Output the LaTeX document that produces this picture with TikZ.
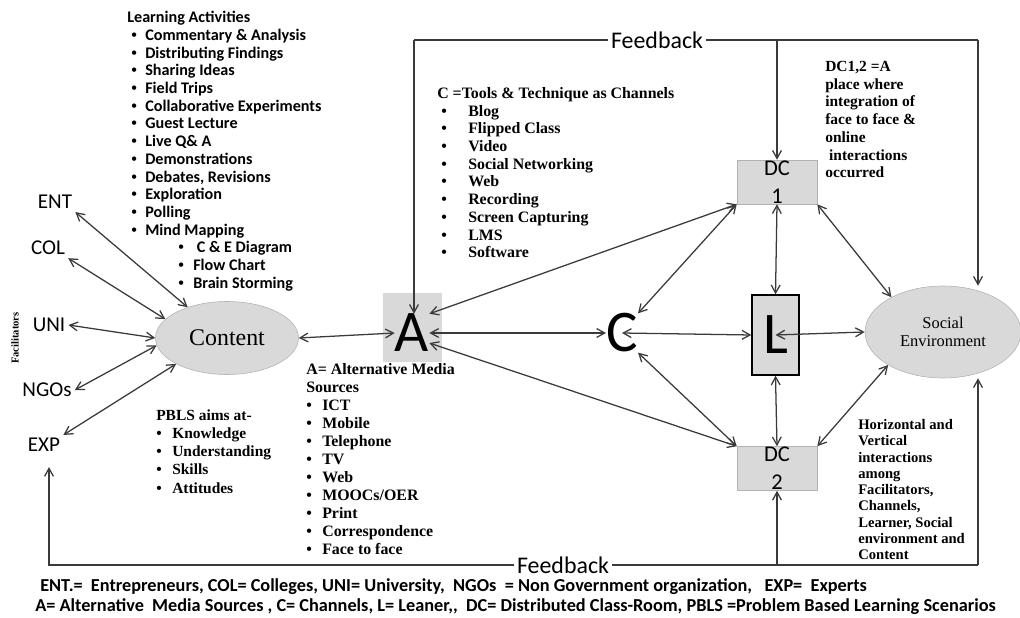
\documentclass[tikz,border=0pt]{standalone}
\usepackage{fontspec}
\setmainfont{Liberation Serif}
\newfontfamily\calib{Carlito}
\usetikzlibrary{positioning, arrows.meta, shapes}
\definecolor{boxgray}{HTML}{D9D9D9}
\definecolor{linegray}{HTML}{3A3A3A}
\newcommand{\li}[2][3.5mm]{\makebox[#1][l]{\rmfamily\textbullet}#2}

\begin{document}
\begin{tikzpicture}[
        x=0.25mm, y=-0.25mm,
        >={Straight Barb[length=2mm,width=2.2mm]},
        link/.style={draw=linegray, line width=0.9pt},
        twoway/.style={link, <->},
        oneway/.style={link, ->},
        abbr/.style={font=\calib\fontsize{15}{18}\selectfont, inner sep=0.75mm},
        bigletter/.style={font=\calib\fontsize{42}{42}\selectfont, inner sep=0pt},
        dcbox/.style={rectangle, fill=boxgray, draw=gray!60, minimum width=20mm, minimum height=11mm,
            inner sep=0pt, align=center, font=\calib\fontsize{16}{20}\selectfont},
        bubble/.style={ellipse, fill=boxgray, draw=gray!60, inner sep=0pt},
        listtext/.style={anchor=north west, inner sep=0pt, align=left},
        fbtext/.style={font=\calib\fontsize{17}{20}\selectfont, inner sep=0.75mm},
    ]
    \fill[white] (0,0) rectangle (1020,618);
    \useasboundingbox (0,0) rectangle (1020,618);

    \node[fill=boxgray, minimum width=14.75mm, minimum height=17.25mm, inner sep=0pt] (abox) at (412.5,327.5) {};

    \node[bubble, minimum width=35.75mm, minimum height=18.25mm, font=\fontsize{17}{20}\selectfont] (content) at (227,338) {Content};
    \node[bigletter] (A) at (412,333) {A};
    \node[bigletter] (C) at (622,333) {C};
    \node[bigletter, draw=black, line width=1pt, fill=boxgray, minimum width=11.75mm, minimum height=20mm] (L) at (775.5,335) {L};
    \node[dcbox] (dc1) at (777,182) {DC\\1};
    \node[dcbox] (dc2) at (777,468.5) {DC\\2};
    \node[bubble, minimum width=39mm, minimum height=23mm, align=center, font=\fontsize{11.7}{12.5}\selectfont] (social) at (943,332) {Social\\Environment};

    \node[abbr] (ENT) at (55,202) {ENT};
    \node[abbr] (COL) at (48,248) {COL};
    \node[abbr] (UNI) at (49,325) {UNI};
    \node[abbr] (NGOs) at (47,390) {NGOs};
    \node[abbr] (EXP) at (44,445) {EXP};
    \node[rotate=90, inner sep=0pt, font=\bfseries\fontsize{7.5}{8}\selectfont] (facil) at (15,338) {Facilitators};

    \node[listtext, font=\calib\bfseries\fontsize{11.5}{12.6}\selectfont] (activities) at (131,11) {%
        \hspace*{-1mm}Learning Activities\\
        \li{Commentary \& Analysis}\\
        \li{Distributing Findings}\\
        \li{Sharing Ideas}\\
        \li{Field Trips}\\
        \li{Collaborative Experiments}\\
        \li{Guest Lecture}\\
        \li{Live Q\& A}\\
        \li{Demonstrations}\\
        \li{Debates, Revisions}\\
        \li{Exploration}\\
        \li{Polling}\\
        \li{Mind Mapping}\\
        \hspace*{11.75mm}\li[3.75mm]{\ C \& E Diagram}\\
        \hspace*{11.75mm}\li[3.75mm]{Flow Chart}\\
        \hspace*{11.75mm}\li[3.75mm]{Brain Storming}};
    \node[listtext, font=\bfseries\fontsize{11.3}{12.6}\selectfont] (channels) at (441,87) {%
        \hspace*{-1mm}C =Tools \& Technique as Channels\\
        \li[6.75mm]{Blog}\\
        \li[6.75mm]{Flipped Class}\\
        \li[6.75mm]{Video}\\
        \li[6.75mm]{Social Networking}\\
        \li[6.75mm]{Web}\\
        \li[6.75mm]{Recording}\\
        \li[6.75mm]{Screen Capturing}\\
        \li[6.75mm]{LMS}\\
        \li[6.75mm]{Software}};
    \node[listtext, font=\bfseries\fontsize{11.3}{12.8}\selectfont] (media) at (306,363) {%
        A= Alternative Media\\
        Sources\\
        \li[4mm]{ICT}\\
        \li[4mm]{Mobile}\\
        \li[4mm]{Telephone}\\
        \li[4mm]{TV}\\
        \li[4mm]{Web}\\
        \li[4mm]{MOOCs/OER}\\
        \li[4mm]{Print}\\
        \li[4mm]{Correspondence}\\
        \li[4mm]{Face to face}};
    \node[listtext, font=\bfseries\fontsize{11}{13}\selectfont] (aims) at (156,409) {%
        PBLS aims at-\\
        \li[4mm]{Knowledge}\\
        \li[4mm]{Understanding}\\
        \li[4mm]{Skills}\\
        \li[4mm]{Attitudes}};
    \node[listtext, font=\bfseries\fontsize{11}{12.6}\selectfont] (dcnote) at (825,61) {%
        DC1,2 =A\\
        place where\\
        integration of\\
        face to face \&\\
        online\\
        \ interactions\\
        occurred};
    \node[listtext, font=\bfseries\fontsize{10.4}{11.6}\selectfont] (hvnote) at (858,419) {%
        Horizontal and\\
        Vertical\\
        interactions\\
        among\\
        Facilitators,\\
        Channels,\\
        Learner, Social\\
        environment and\\
        Content};

    \node[listtext, font=\calib\bfseries\fontsize{13}{14}\selectfont] (legend1) at (40,578)
        {ENT.=\ \ Entrepreneurs, COL= Colleges, UNI= University,\ \ NGOs\ \ = Non Government organization,\ \ \ EXP=\ \ Experts};
    \node[listtext, font=\calib\bfseries\fontsize{13}{14}\selectfont] (legend2) at (35,598)
        {A= Alternative\ \ Media Sources , C= Channels, L= Leaner,,\ \ DC= Distributed\ Class-Room, PBLS =Problem Based\ Learning Scenarios};

    \draw[twoway] (ENT.south east) -- (content.142);
    \draw[twoway] (COL.south east) -- (content.163);
    \draw[twoway] (UNI.east) -- (content.180);
    \draw[twoway] (NGOs.east) -- (content.186);
    \draw[twoway] (EXP.north east) -- (content.207);
    \draw[twoway] (content.east) -- (A.west);
    \draw[twoway] (A.north east) -- (dc1.south west);
    \draw[twoway] (A.east) -- (C.west);
    \draw[twoway] (A.-30) -- (dc2.north west);
    \draw[twoway] (C.north east) -- (dc1.south west);
    \draw[twoway] (C.south east) -- (dc2.north west);
    \draw[twoway] (C.center) -- (L.west);
    \draw[twoway] (L.center) -- (social.west);
    \draw[twoway] (dc1.south) -- (L.north);
    \draw[twoway] (L.south) -- (dc2.north);
    \draw[twoway] (dc1.south east) -- (social.146);
    \draw[twoway] (dc2.north east) -- (social.211);

    \coordinate (fbtl) at (414,40);
    \coordinate (fbtr) at (978,40);
    \node[fbtext] (fbtop) at (657,40) {Feedback};
    \draw[link] (fbtl) -- (fbtop.west);
    \draw[link] (fbtop.east) -- (fbtr);
    \draw[oneway] (fbtl) -- (fbtl |- A.north);
    \draw[oneway] (dc1 |- fbtr) -- (dc1.north);
    \draw[oneway] (fbtr) -- (fbtr |- social.north);

    \coordinate (fbbl) at (49,565);
    \coordinate (fbbr) at (978,565);
    \node[fbtext] (fbbottom) at (563,565) {Feedback};
    \draw[oneway, shorten >=3mm] (fbbottom.west) -- (fbbl) -- (fbbl |- EXP.south);
    \draw[link] (fbbottom.east) -- (fbbr);
    \draw[oneway] (dc2 |- fbbr) -- (dc2.south);
    \draw[oneway] (fbbr) -- (fbbr |- social.south);
\end{tikzpicture}
\end{document}
